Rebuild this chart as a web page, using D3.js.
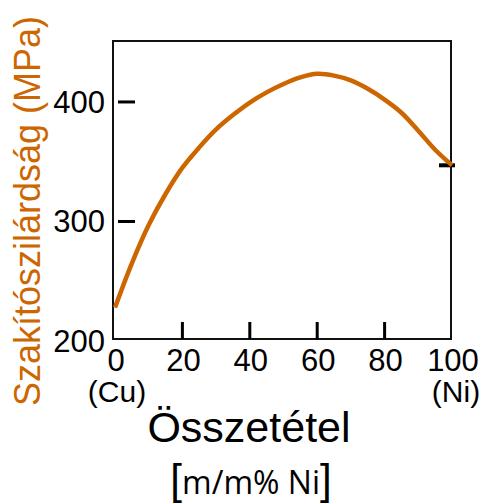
<!DOCTYPE html>
<html>
<head>
<meta charset="utf-8">
<script src="https://cdn.jsdelivr.net/npm/d3@7"></script>
<style>
  html, body { margin: 0; padding: 0; background: #fff; }
  text { font-family: "Liberation Sans", Arial, sans-serif; }
</style>
</head>
<body>
<svg id="chart" width="485" height="504"></svg>
<script>
// nickel content (m/m%) and tensile strength (MPa)
const composition = [0, 5, 10, 15, 20, 25, 30, 35, 40, 45, 50, 55, 60, 65, 70, 75, 80, 85, 90, 95, 100];
const strength = [228, 265, 297, 323, 345, 362, 377, 389, 399.5, 408, 415, 420.5, 423.5, 422, 418, 411, 402, 391, 376, 360, 347];

const xTicks = [0, 20, 40, 60, 80, 100];
const yTicks = [200, 300, 400];
const endLabels = ["(Cu)", "(Ni)"];

const svg = d3.select("#chart");

const x = d3.scaleLinear().domain([0, 100]).range([115, 452]);
const y = d3.scaleLinear().domain([200, 451]).range([341, 41]);

// frame
svg.append("rect")
    .attr("x", 113).attr("y", 41)
    .attr("width", 338).attr("height", 298)
    .attr("fill", "none")
    .attr("stroke", "#111")
    .attr("stroke-width", 2);

// y ticks (inside, detached from the axis)
svg.selectAll(".ytick")
  .data(yTicks.filter(d => d > 200))
  .enter().append("line")
    .attr("x1", x(0) + 3).attr("x2", x(0) + 20)
    .attr("y1", d => y(d)).attr("y2", d => y(d))
    .attr("stroke", "#000").attr("stroke-width", 3);

svg.selectAll(".ylab")
  .data(yTicks)
  .enter().append("text")
    .attr("x", 105)
    .attr("y", d => y(d) + 11)
    .attr("text-anchor", "end")
    .attr("font-size", 31)
    .text(d => d);

// x ticks
svg.selectAll(".xtick")
  .data(xTicks.filter(d => d > 0 && d < 100))
  .enter().append("line")
    .attr("x1", d => x(d)).attr("x2", d => x(d))
    .attr("y1", 322).attr("y2", 339)
    .attr("stroke", "#000").attr("stroke-width", 3);

svg.selectAll(".xlab")
  .data(xTicks)
  .enter().append("text")
    .attr("x", d => x(d) + 1)
    .attr("y", 371)
    .attr("text-anchor", "middle")
    .attr("font-size", 31)
    .text(d => d);

svg.selectAll(".endlab")
  .data(endLabels)
  .enter().append("text")
    .attr("x", (d, i) => i === 0 ? x(0) + 2 : x(100) + 4)
    .attr("y", 402)
    .attr("text-anchor", "middle")
    .attr("font-size", 30)
    .text(d => d);

// tick marking the pure-Ni value on the right edge
svg.append("line")
    .attr("x1", 439).attr("x2", 455)
    .attr("y1", y(strength[strength.length - 1]))
    .attr("y2", y(strength[strength.length - 1]))
    .attr("stroke", "#000").attr("stroke-width", 4);

// curve
const line = d3.line()
    .x(d => x(d[0]))
    .y(d => y(d[1]))
    .curve(d3.curveCatmullRom.alpha(0.5));

svg.append("path")
    .datum(composition.map((c, i) => [c, strength[i]]))
    .attr("d", line)
    .attr("fill", "none")
    .attr("stroke", "#CC6600")
    .attr("stroke-width", 4.5)
    .attr("stroke-linecap", "butt");

// axis titles
svg.append("text")
    .attr("x", 249).attr("y", 442)
    .attr("text-anchor", "middle")
    .attr("font-size", 43)
    .text("Összetétel");

const unit = svg.append("text")
    .attr("x", 251).attr("y", 494)
    .attr("text-anchor", "middle");
unit.append("tspan").attr("font-size", 42).text("[");
unit.append("tspan").attr("font-size", 32)
    .style("font-family", "'Open Sans', sans-serif")
    .text("m/m% Ni");
unit.append("tspan").attr("font-size", 42).text("]");

svg.append("text")
    .attr("transform", "translate(40,211) rotate(-90)")
    .attr("text-anchor", "middle")
    .attr("font-size", 36)
    .attr("fill", "#CC6600")
    .text("Szakítószilárdság (MPa)");
</script>
</body>
</html>
